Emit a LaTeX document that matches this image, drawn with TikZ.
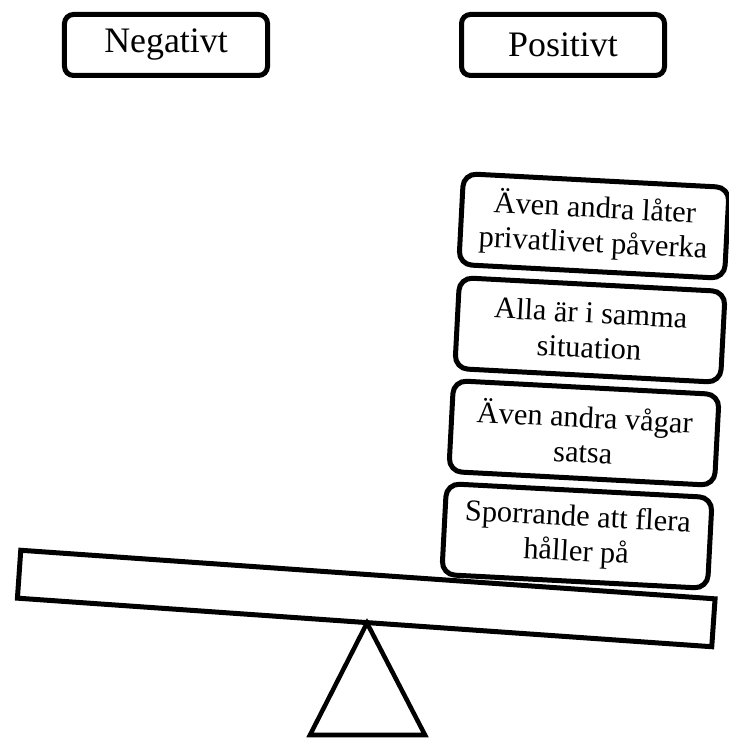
\documentclass[tikz,border=0pt]{standalone}
\usepackage{fontspec}
\setmainfont{Liberation Serif}
\begin{document}
\begin{tikzpicture}[x=1bp,y=1bp,
  header/.style={draw, line width=5bp, rounded corners=9bp,
    minimum width=203bp, minimum height=61bp, inner sep=0pt,
    font=\fontsize{36}{40}\selectfont},
  reason/.style={draw, line width=5bp, rounded corners=13bp,
    minimum width=266bp, minimum height=91bp, inner sep=0pt,
    align=center, rotate=-3, font=\fontsize{30.5}{35}\selectfont},
  lever/.style={draw, line width=5bp, minimum width=696bp,
    minimum height=48bp, inner sep=0pt, rotate=-4},
  support/.style={draw, line width=4.5bp, line join=miter}]
\useasboundingbox (0,0) rectangle (729,738);

% column headings
\node[header] (neg) at (166,693) {Negativt};
\node[header] (pos) at (563,693) {Positivt};

% fulcrum
\coordinate (apex) at (367,115);
\coordinate (baseL) at (310,3);
\coordinate (baseR) at (425,3);
\draw[support] (apex) -- (baseL) -- (baseR) -- cycle;

% tilted beam
\node[lever] (beam) at (366.25,139.5) {};

% stacked arguments on the positive side
\node[reason] (r1) at (594,512) {Även andra låter\\privatlivet påverka};
\node[reason] (r2) at (590,408) {Alla är i samma\\situation};
\node[reason] (r3) at (584,305) {Även andra vågar\\satsa};
\node[reason] (r4) at (577,202) {Sporrande att flera\\håller på};
\end{tikzpicture}
\end{document}
